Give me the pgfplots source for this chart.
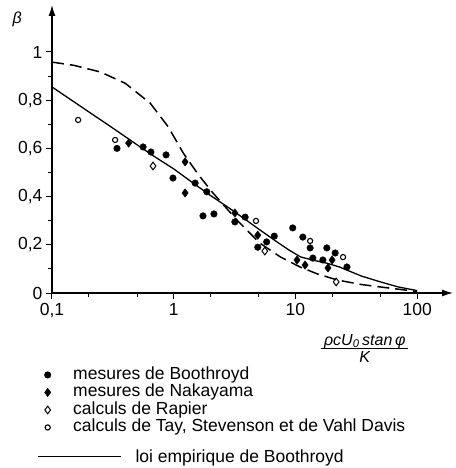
\documentclass[border=0pt]{standalone}
\usepackage{fontspec}
\setmainfont{Liberation Sans}
\usepackage{pgfplots}
\pgfplotsset{compat=1.18}
\usepackage{pgfplotstable}
\usetikzlibrary{arrows.meta}

% Mesures et calculs
\pgfplotstableread{
x     b
0.342 0.600
0.56  0.606
0.65  0.585
0.865 0.573
0.986 0.477
1.5   0.456
1.87  0.420
1.74  0.320
2.14  0.328
3.18  0.295
3.86  0.315
5.8   0.212
4.9   0.190
6.7   0.236
9.5   0.270
11.5  0.232
13.2  0.187
18.1  0.187
21.2  0.166
13.9  0.145
16.8  0.137
26.5  0.108
}\boothroyd
\pgfplotstableread{
x     b
0.426 0.622
1.24  0.544
1.24  0.415
3.18  0.332
4.9   0.240
10.3  0.137
12.0  0.116
18.5  0.104
20.0  0.137
}\nakayama
\pgfplotstableread{
x     b
0.676 0.527
5.6   0.174
21.6  0.046
}\rapier
\pgfplotstableread{
x     b
0.164 0.718
0.33  0.635
4.74  0.299
13.2  0.216
24.6  0.149
}\tay
% loi empirique de Boothroyd
\pgfplotstableread{
x     b
0.1   0.855
0.2   0.752
0.3   0.692
0.5   0.615
0.7   0.565
1     0.515
1.5   0.450
2     0.405
3     0.345
4     0.300
5     0.265
7     0.213
9     0.176
11    0.150
14    0.136
18    0.124
23    0.108
28    0.090
35    0.070
50    0.046
70    0.025
100   0.010
}\loiemp
% courbe en tirets
\pgfplotstableread{
x     b
0.1   0.958
0.15  0.945
0.25  0.917
0.4   0.870
0.64  0.788
0.9   0.690
1.2   0.580
1.6   0.490
2.1   0.415
3.3   0.303
5.1   0.207
7.5   0.150
10.9  0.108
15    0.080
22    0.054
35    0.035
50    0.025
100   0.006
}\tirets

\pgfplotsset{
  mk/.style={only marks,
    legend image code/.code={\path (0pt,0pt) (37pt,0pt);
      \draw[##1] plot coordinates {(14pt,0pt)};}},
}

\begin{document}
\begin{tikzpicture}
\begin{axis}[
  scale only axis, width=401pt, height=288pt,
  xmode=log, xmin=0.1, xmax=197, ymin=0, ymax=1.195,
  axis lines=left,
  axis line style={line width=1.3pt, -{Latex[length=11pt,width=7pt]}},
  tick style={line width=1pt, black},
  tick align=outside,
  major tick length=6pt, minor tick length=4pt,
  xtick={0.1,1,10,100}, xticklabels={{0,1},1,10,100},
  minor xtick={0.2,0.5,2,5,20,50},
  ytick={0,0.2,0.4,0.6,0.8,1}, yticklabels={0,{0,2},{0,4},{0,6},{0,8},1},
  minor ytick={0.1,0.3,0.5,0.7,0.9},
  ticklabel style={font=\fontsize{17.5}{19}\selectfont},
  xticklabel style={yshift=-1pt},
  ylabel={\itshape β},
  ylabel style={at={(axis description cs:-0.087,0.95)}, rotate=-90, anchor=center,
    font=\fontsize{16}{18}\selectfont},
  xlabel={\setlength\arrayrulewidth{1.2pt}\begin{tabular}{@{\,}c@{\,}}
      \itshape ρcU\textsubscript{0}\,stan\,φ\\[-3pt]\hline
      \rule{0pt}{14pt}\itshape K\end{tabular}},
  xlabel style={at={(axis description cs:0.78,0)}, anchor=north, inner sep=0pt,
    yshift=-39.5pt, font=\fontsize{16}{18}\selectfont},
  legend style={draw=none, fill=none, at={(axis description cs:-0.055,-0.2465)},
    anchor=north west, font=\fontsize{17.5}{19}\selectfont, row sep=0pt,
    nodes={text height=11.5pt, text depth=3pt, inner ysep=1.5pt},
    legend cell align=left},
  clip=false,
]
\addplot[black, line width=1.3pt, forget plot] table[x=x,y=b] {\loiemp};
\addplot[black, line width=1.5pt, dash pattern=on 12pt off 6pt, forget plot] table[x=x,y=b] {\tirets};
\addplot[mk, mark=*, mark size=3.3pt, black] table[x=x,y=b] {\boothroyd};
\addlegendentry{mesures de Boothroyd}
\addplot[mk, mark=diamond*, mark size=4.2pt, black] table[x=x,y=b] {\nakayama};
\addlegendentry{mesures de Nakayama}
\addplot[mk, mark=diamond, mark size=3.8pt, black, line width=1pt, fill=white] table[x=x,y=b] {\rapier};
\addlegendentry{calculs de Rapier}
\addplot[mk, mark=o, mark size=2.6pt, black, line width=1.1pt] table[x=x,y=b] {\tay};
\addlegendentry{calculs de Tay, Stevenson et de Vahl Davis}
\end{axis}
\begin{axis}[
  hide axis, scale only axis, width=401pt, height=288pt,
  xmin=0, xmax=1, ymin=0, ymax=1,
  legend style={draw=none, fill=none, at={(axis description cs:-0.037,-0.569)},
    anchor=west, font=\fontsize{17.5}{19}\selectfont, inner sep=0pt,
    legend cell align=left},
  legend image code/.code={\draw[#1] (0pt,0pt) -- (83pt,0pt);},
]
\addlegendimage{black, line width=1.2pt}
\addlegendentry{\hspace{12pt}loi empirique de Boothroyd}
\end{axis}
\pgfresetboundingbox
\path (-52pt,-175pt) rectangle (403pt,293pt);
\end{tikzpicture}
\end{document}
